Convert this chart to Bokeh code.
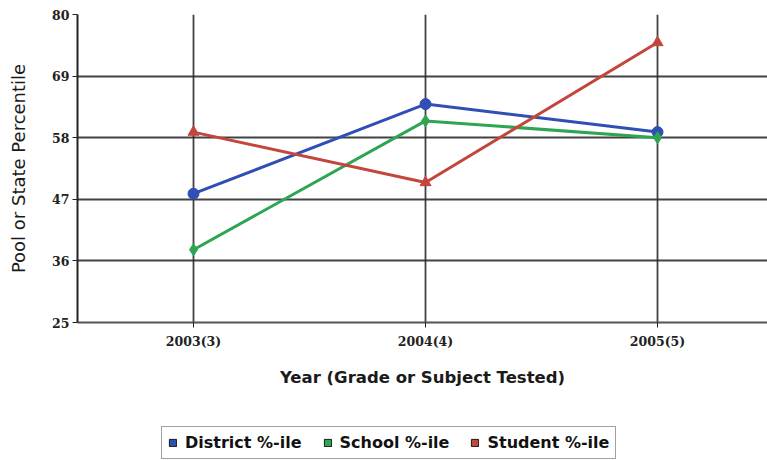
from bokeh.plotting import figure
from bokeh.layouts import column
from bokeh.models import Range1d, FixedTicker, Legend, LegendItem
from bokeh.embed import file_html
from bokeh.resources import INLINE

years = ["2003(3)", "2004(4)", "2005(5)"]
district = [48, 64, 59]
school = [38, 61, 58]
student = [59, 50, 75]
y_ticks = [25, 36, 47, 58, 69, 80]
labels = ["District %-ile", "School %-ile", "Student %-ile"]

xs = list(range(len(years)))

p = figure(width=767, height=426, output_backend="svg", toolbar_location=None,
           x_range=Range1d(-0.5, 2.474), y_range=Range1d(25, 80),
           min_border_left=77, min_border_top=14, min_border_right=0, min_border_bottom=104)
p.outline_line_color = None
p.background_fill_color = "white"

# grids
p.xgrid.ticker = FixedTicker(ticks=xs)
p.ygrid.ticker = FixedTicker(ticks=y_ticks)
for g in (p.xgrid, p.ygrid):
    g.grid_line_color = "#2e2e2e"
    g.grid_line_width = 1.8
    g.grid_line_alpha = 0.9

# axes
p.xaxis.ticker = FixedTicker(ticks=xs)
p.xaxis.major_label_overrides = {i: y for i, y in enumerate(years)}
p.yaxis.ticker = FixedTicker(ticks=y_ticks)
p.xaxis.minor_tick_line_color = None
p.yaxis.minor_tick_line_color = None
for ax in (p.xaxis, p.yaxis):
    ax.axis_line_color = "#222222"
    ax.axis_line_width = 2
    ax.major_tick_line_color = "#222222"
    ax.major_tick_out = 5
    ax.major_tick_in = 0
    ax.major_label_text_font = "DejaVu Serif"
    ax.major_label_text_font_style = "bold"
    ax.major_label_text_font_size = "12.5px"
    ax.major_label_text_color = "#222222"
    ax.axis_label_text_font = "DejaVu Sans"
    ax.axis_label_text_font_style = "bold"
    ax.axis_label_text_color = "#1a1a1a"
p.xaxis.axis_line_color = "#555555"
p.xaxis.major_label_standoff = 6
p.yaxis.major_label_standoff = 3
p.xaxis.axis_label = "Year (Grade or Subject Tested)"
p.yaxis.axis_label = "Pool or State Percentile"
p.xaxis.axis_label_text_font_size = "16.5px"
p.yaxis.axis_label_text_font_size = "18px"
p.yaxis.axis_label_text_font_style = "normal"
p.xaxis.axis_label_standoff = 16
p.yaxis.axis_label_standoff = 20

colors = ["#2f4fb5", "#2ea552", "#c4453c"]
markers = ["circle", "diamond", "triangle"]
msizes = [11, 12, 11]

for vals, c, m, s in zip([district, school, student], colors, markers, msizes):
    p.line(xs, vals, line_color=c, line_width=3)
    p.scatter(xs, vals, marker=m, size=s, fill_color=c, line_color=c)

# legend strip (separate figure so the legend is not clipped by the plot frame)
lf = figure(width=767, height=34, output_backend="svg", toolbar_location=None,
            x_range=Range1d(0, 1), y_range=Range1d(0, 1),
            x_axis_location=None, y_axis_location=None, min_border=0)
lf.outline_line_color = None
lf.grid.visible = False
items = []
for lab, c in zip(labels, colors):
    # swatch renderer placed off-screen; only its legend glyph is seen
    r = lf.quad(left=[5], right=[6], bottom=[5], top=[6], fill_color=c,
                line_color="#1a1a1a", line_width=1)
    items.append(LegendItem(label=lab, renderers=[r]))

legend = Legend(items=items, orientation="horizontal", location=(84, 1),
                glyph_width=9, glyph_height=9, label_standoff=8, spacing=21,
                padding=6, margin=0,
                label_text_font="DejaVu Sans", label_text_font_style="bold",
                label_text_font_size="16px", label_text_color="#111111",
                border_line_color="#444444", border_line_width=1.5,
                background_fill_color="white")
lf.add_layout(legend, "center")

layout = column(p, lf, spacing=0)
open("out.html", "w").write(file_html(layout, INLINE))
